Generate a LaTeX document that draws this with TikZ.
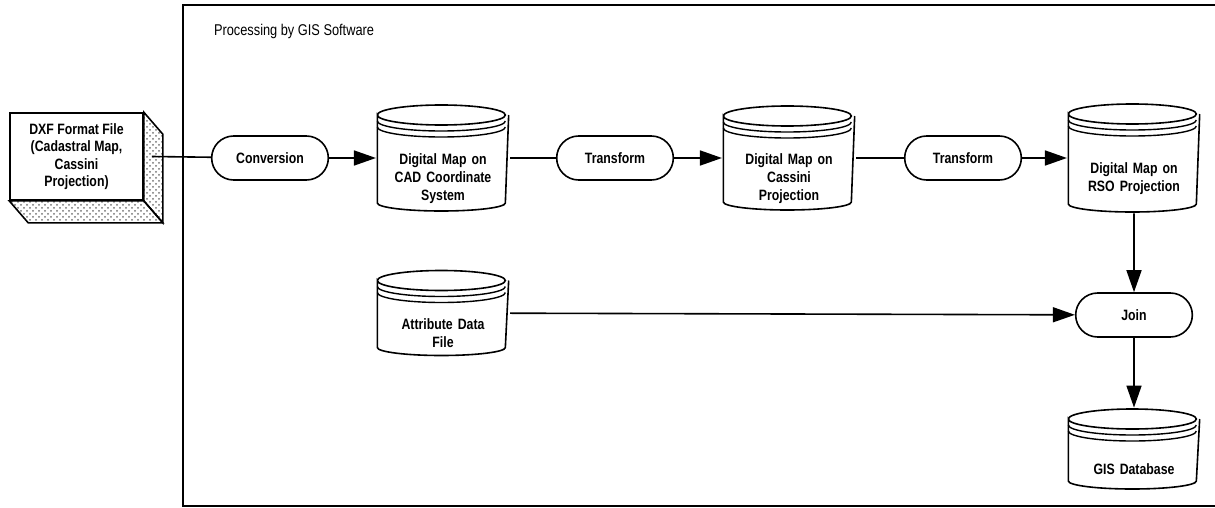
\documentclass[tikz,border=0pt]{standalone}
\usepackage{fontspec}
\setmainfont[FakeStretch=0.82]{Liberation Sans}
\usepackage{tikz}
\usetikzlibrary{patterns}
\usetikzlibrary{shapes,positioning,calc}
\usetikzlibrary{shapes.misc}
\usetikzlibrary{arrows.meta}
\tikzstyle{processo} = [rounded rectangle, minimum width=65pt, minimum height=22pt, text centered, draw=black, line width=0.8pt, font=\fontsize{7.5}{9}\selectfont\bfseries]
\tikzstyle{archivio} = [rectangle, minimum width=65pt, text width=60pt, align=center, text height=26pt, font=\fontsize{7.5}{9}\selectfont\bfseries,
path picture={
\draw[line width=0.8pt] ([shift={(0.5pt,-5.5pt)}]path picture bounding box.north west)
 arc[start angle=180, end angle=-180, x radius=32pt, y radius=5pt]
 -- ([shift={(0.5pt,4.5pt)}]path picture bounding box.south west)
 arc[start angle=180, end angle=360, x radius=32pt, y radius=4pt]
 -- ([shift={(-0.5pt,-5.5pt)}]path picture bounding box.north east);
\draw[line width=0.7pt] ([shift={(0.5pt,-8.5pt)}]path picture bounding box.north west)
 arc[start angle=180, end angle=360, x radius=32pt, y radius=5pt];
\draw[line width=0.7pt] ([shift={(0.5pt,-11.5pt)}]path picture bounding box.north west)
 arc[start angle=180, end angle=360, x radius=32pt, y radius=5pt];
}]
\tikzstyle{arrow} = [line width=0.8pt,-{Triangle[length=11pt,width=7.5pt]}]
\tikzstyle{linea} = [line width=0.8pt]

\begin{document}
\begin{tikzpicture}[x=0.5pt,y=-0.5pt]
\useasboundingbox (0,0) rectangle (1215,508);
% cornice del software GIS
\draw[line width=0.7pt] (1216,5) -- (183,5) -- (183,506) -- (1216,506);
\node[anchor=west, font=\fontsize{7.8}{9}\selectfont] (titolo) at (207,31) {Processing by GIS Software};
% file DXF
\node (dxf) at (76.5,156.5) [rectangle, draw=black, line width=0.8pt, minimum width=66.5pt, minimum height=43.5pt, align=center, font=\fontsize{7.5}{8.7}\selectfont\bfseries] {DXF Format File\\(Cadastral Map,\\Cassini\\Projection)};
\draw[line width=0.8pt, pattern=crosshatch dots, pattern color=black!55] (dxf.north east) -- ++(9.5pt,-11pt) -- ($(dxf.south east)+(9.5pt,-11pt)$) -- (dxf.south east) -- cycle;
\draw[line width=0.8pt, pattern=crosshatch dots, pattern color=black!55] (dxf.south west) -- ++(9.5pt,-11pt) -- ($(dxf.south east)+(9.5pt,-11pt)$) -- (dxf.south east) -- cycle;
\coordinate (dxfout) at ($(dxf.east)+(4pt,0)$);
% processi e archivi
\node (conv) at (270,158) [processo] {Conversion};
\node (cad) at (443,158) [archivio, minimum height=54pt] {Digital Map on\\CAD Coordinate\\System};
\node (tr1) at (615,158) [processo] {Transform};
\node (cas) at (789,158) [archivio, minimum height=53pt] {Digital Map on\\Cassini\\Projection};
\node (tr2) at (963,158) [processo] {Transform};
\node (rso) at (1134,158) [archivio, minimum height=55pt] {Digital Map on\\RSO Projection};
\node (join) at (1134,315) [processo] {Join};
\node (attr) at (443,313) [archivio, minimum height=43.5pt] {Attribute Data\\File};
\node (gis) at (1134,449) [archivio, minimum height=41pt] {GIS Database};
% collegamenti
\draw[linea] (dxfout) -- (conv);
\draw[arrow] (conv) -- (cad);
\draw[linea] (cad) -- (tr1);
\draw[arrow] (tr1) -- (cas);
\draw[linea] (cas) -- (tr2);
\draw[arrow] (tr2) -- (rso);
\draw[arrow] (rso) -- (join);
\draw[arrow] (attr) -- (join);
\draw[arrow] (join) -- (gis);
\end{tikzpicture}
\end{document}
